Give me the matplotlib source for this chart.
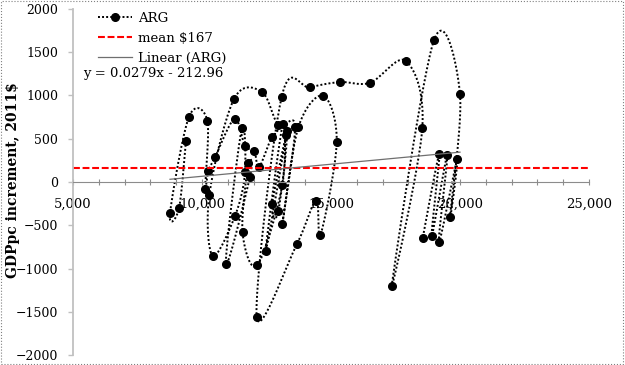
import numpy as np
import matplotlib.pyplot as plt
from matplotlib.lines import Line2D
from matplotlib.patches import Rectangle
from matplotlib.ticker import MultipleLocator, FuncFormatter

# Argentina, GDP per capita level (x) and yearly increment (y), 1961-2018
years = list(range(1961, 2019))
gdppc = [9380, 9109, 8760, 9496, 10206, 10116, 10244, 10504, 11260, 11667,
         12027, 12209, 12725, 13290, 12957, 12725, 13266, 12469, 13128, 13113,
         12144, 11570, 11795, 11860, 10930, 11539, 11667, 11279, 10415, 10283,
         11240, 12314, 12957, 13605, 13113, 13733, 14702, 15221, 14593, 14419,
         13671, 12121, 13089, 14186, 15349, 16512, 17907, 18539, 17353, 18992,
         20000, 19612, 19895, 19186, 19507, 18903, 19197, 18554]
increment = [477, -304, -362, 754, 708, -81, 127, 285, 728, 416,
             358, 170, 516, 590, -341, -258, 541, -797, 670, -35,
             -962, -577, 223, 61, -944, 620, 112, -393, -855, -150,
             959, 1043, 658, 639, -485, 632, 997, 462, -612, -216,
             -722, -1559, 985, 1094, 1155, 1147, 1398, 620, -1198, 1640,
             1016, -404, 269, -693, 312, -624, 320, -650]
mean_increment = 167
trend_slope = 0.0279
trend_intercept = -212.96


def smooth_curve(xs, ys, steps=30):
    # excel-like smoothed line (catmull-rom through the points)
    p = np.column_stack([xs, ys]).astype(float)
    p = np.vstack([p[0], p, p[-1]])
    t = np.linspace(0, 1, steps)[:, None]
    out = []
    for i in range(1, len(p) - 2):
        p0, p1, p2, p3 = p[i - 1], p[i], p[i + 1], p[i + 2]
        b1 = p1 + (p2 - p0) / 6
        b2 = p2 - (p3 - p1) / 6
        seg = ((1 - t) ** 3) * p1 + 3 * ((1 - t) ** 2) * t * b1 + 3 * (1 - t) * t ** 2 * b2 + t ** 3 * p2
        out.append(seg)
    out = np.vstack(out)
    return out[:, 0], out[:, 1]


plt.rcParams['font.family'] = ['DejaVu Serif']
plt.rcParams['font.size'] = 9.5

fig = plt.figure(figsize=(6.25, 3.65), dpi=100)
ax = fig.add_axes([73 / 625, 10 / 365, 516 / 625, 346 / 365])

sx, sy = smooth_curve(gdppc, increment)
ax.plot(sx, sy, color='black', lw=1.4, ls=(0, (1, 1.1)))
ax.plot(gdppc, increment, 'o', color='black', ms=5.5, ls='none')

ax.plot([5000, 25000], [mean_increment, mean_increment], color='red', lw=1.5, ls=(0, (3.3, 1.3)))

tx = np.array([min(gdppc), max(gdppc)])
ax.plot(tx, trend_slope * tx + trend_intercept, color='#6f6f6f', lw=0.9)

ax.set_xlim(5000, 25000)
ax.set_ylim(-2000, 2000)

for s in ['top', 'right']:
    ax.spines[s].set_visible(False)
ax.spines['bottom'].set_position(('data', 0))
ax.spines['bottom'].set_color('#8c8c8c')
ax.spines['bottom'].set_linewidth(0.8)
ax.spines['bottom'].set_linestyle((0, (1, 1)))
ax.spines['left'].set_color('#c0c0c0')
ax.spines['left'].set_linewidth(1.3)

ax.xaxis.set_major_locator(MultipleLocator(5000))
ax.xaxis.set_minor_locator(MultipleLocator(1000))
ax.xaxis.set_major_formatter(FuncFormatter(lambda v, p: f"{int(v):,}"))
ax.yaxis.set_major_locator(MultipleLocator(500))
ax.tick_params(axis='x', which='both', direction='inout', length=5, color='#8c8c8c', width=0.8, pad=9)
ax.tick_params(axis='y', direction='out', length=3.6, color='#c0c0c0', width=1, pad=7, labelsize=9)

fig.text(13 / 625, 1 - 180 / 365, 'GDPpc increment, 2011$', rotation=90, va='center', ha='center',
         fontweight='bold', fontsize=10)

handles = [Line2D([], [], color='black', lw=1.4, ls=(0, (1, 1.1)), marker='o', ms=5.5),
           Line2D([], [], color='red', lw=1.5, ls=(0, (3.3, 1.3))),
           Line2D([], [], color='#6f6f6f', lw=0.9)]
fig.legend(handles, ['ARG', 'mean $167', 'Linear (ARG)'], loc='upper left',
           bbox_to_anchor=(91 / 625, 1 - 5 / 365), frameon=False, borderpad=0,
           handlelength=2.6, handletextpad=0.45, labelspacing=0.55)
fig.text(83 / 625, 1 - 73 / 365, 'y = 0.0279x - 212.96', va='center', ha='left')

fig.add_artist(Rectangle((0.002, 0.003), 0.995, 0.994, transform=fig.transFigure,
                         fill=False, ls=':', color='gray', lw=0.8))

fig.savefig('out.png', dpi=100)
